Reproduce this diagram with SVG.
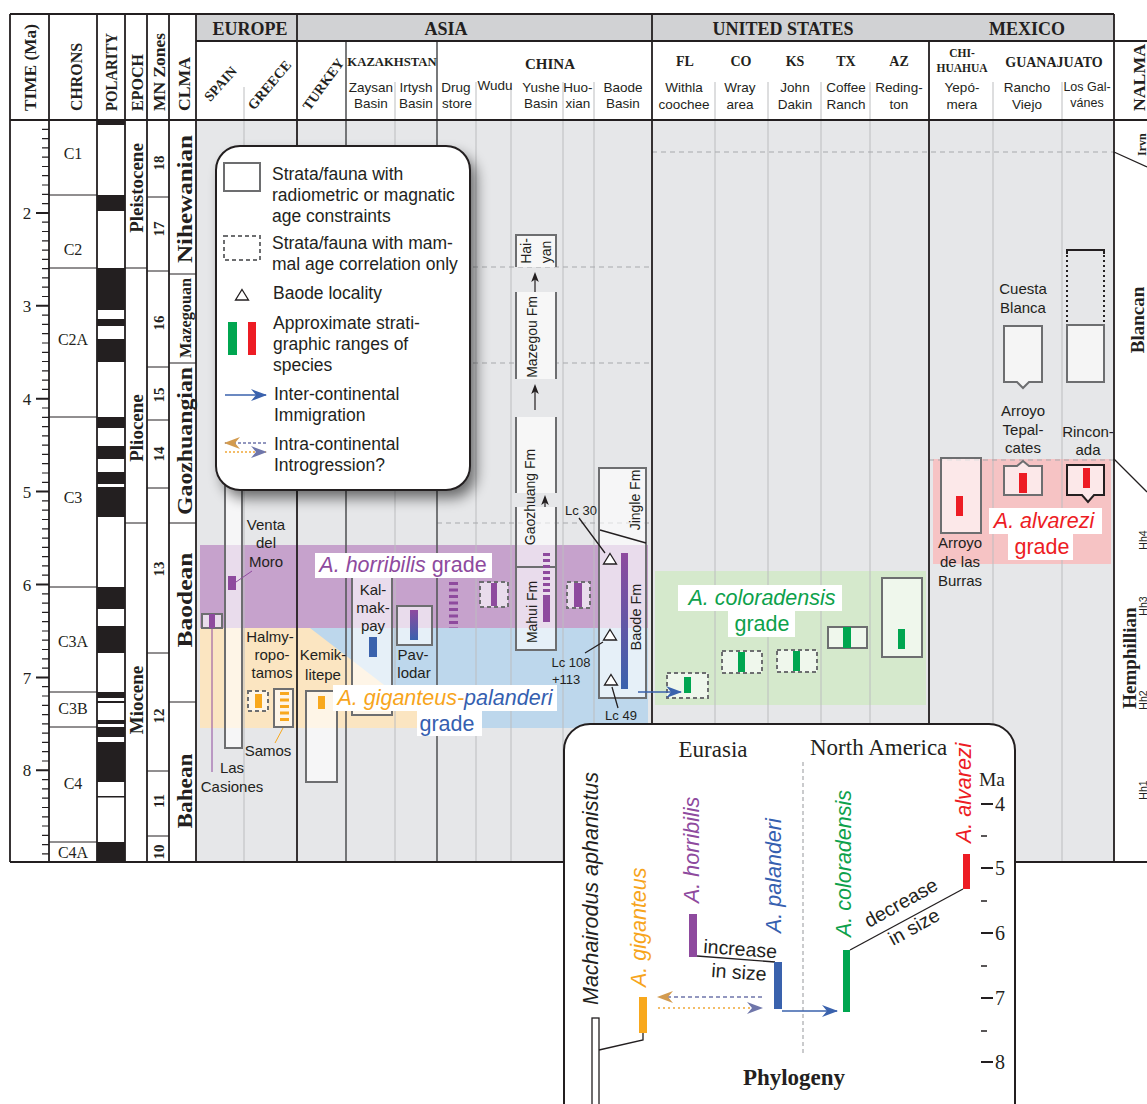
<svg xmlns="http://www.w3.org/2000/svg" width="1147" height="1104" viewBox="0 0 1147 1104">
<defs>
<style>
text{font-family:"Liberation Sans",Arial,sans-serif;fill:#231f20}
.tb{font-family:"Liberation Serif","Times New Roman",serif;font-weight:bold}
.tr{font-family:"Liberation Serif","Times New Roman",serif}
.c{text-anchor:middle}
.hd{font-size:13.5px}
.lb{font-size:15px}
.lg{font-size:17.5px}
.gr{font-size:21.5px}
.sp{font-size:21.5px;font-style:italic}
.tbox{fill:#fff;fill-opacity:.62;stroke:#6d6e70;stroke-width:2}
.dbox{fill:#fff;fill-opacity:.62;stroke:#6d6e70;stroke-width:2;stroke-dasharray:4 3}
.grid{stroke:#bcbdbf;stroke-width:1;fill:none}
.dash{stroke:#a7a9ac;stroke-width:1;stroke-dasharray:5 4;fill:none}
.ln{stroke:#231f20;stroke-width:1.3;fill:none}
.pu{fill:#8e4a9e}.bl{fill:#3a62ad}.or{fill:#f8a81d}.gn{fill:#00a650}.rd{fill:#ed1c24}
.lab{fill:#fff}
.tpu{fill:#8e4a9e}.tbl{fill:#3560b0}.tor{fill:#f7a51c}.tgn{fill:#0da14b}.trd{fill:#ed1c24}
</style>
<linearGradient id="pb" x1="0" y1="0" x2="0" y2="1"><stop offset="0" stop-color="#8e4a9e"/><stop offset="1" stop-color="#3a62ad"/></linearGradient>
<marker id="aBlue" markerUnits="userSpaceOnUse" markerWidth="16" markerHeight="12" viewBox="0 0 16 12" refX="15" refY="6" orient="auto"><path d="M0,0 L16,6 L0,12 L5,6Z" fill="#3a62ad"/></marker>
<marker id="aTan" markerUnits="userSpaceOnUse" markerWidth="16" markerHeight="12" viewBox="0 0 16 12" refX="15" refY="6" orient="auto"><path d="M0,0 L16,6 L0,12 L5,6Z" fill="#d39b4f"/></marker>
<marker id="aSlate" markerUnits="userSpaceOnUse" markerWidth="16" markerHeight="12" viewBox="0 0 16 12" refX="15" refY="6" orient="auto"><path d="M0,0 L16,6 L0,12 L5,6Z" fill="#6f76aa"/></marker>
<path id="ah" d="M0,0 L3.8,10 L0,7.5 L-3.8,10Z" fill="#231f20"/>
<path id="tri" d="M0,-5.5 L6.5,5 L-6.5,5Z" fill="#fff" stroke="#231f20" stroke-width="1.3"/>
<filter id="sh" x="-20%" y="-20%" width="140%" height="140%"><feGaussianBlur stdDeviation="7"/></filter>
</defs>
<rect x="0" y="0" width="1147" height="1104" fill="#fff"/>

<g id="frame">
<rect x="196" y="120" width="918" height="742" fill="#e6e7e9"/>
<rect x="196" y="14" width="918" height="27" fill="#d1d2d4"/>
</g>

<g id="bands">
<rect id="band-horribilis" x="200" y="545" width="448" height="83" fill="#c6a2cc"/>
<rect id="band-palanderi" x="200" y="628" width="448" height="100" fill="#bdd7ec"/>
<polygon id="band-giganteus" points="200,628 310,628 440,728 200,728" fill="#fbe5c1"/>
<rect id="band-coloradensis" x="655" y="571" width="271" height="134" fill="#d5e9cc"/>
<rect id="band-alvarezi" x="933" y="459" width="178" height="105" fill="#f6c3c4"/>
</g>

<g id="gridlines">
<path class="grid" d="M244 87V862M395 82V862M476 82V862M511 82V862M563 82V862M594 82V862M715 82V862M768 82V862M821 82V862M870 82V862M993 82V862M1062 82V862"/>
<path class="dash" d="M437 267H652M437 363H652M437 523H652M652 152H1114M929 460H1114"/>
<path d="M346 41V862M437 41V862" stroke="#58595b" stroke-width="1.6" fill="none"/>
<path d="M10 14H1114M196 41H1147M10 120H1147M10 862H1147M10 14V862M49 14V862M97 14V862M125 14V862M147 14V862M169 14V862M196 14V862M297 14V862M652 14V862M929 41V862M1114 14V862" stroke="#231f20" stroke-width="1.8" fill="none"/>
</g>

<g id="header">
<text class="tb" font-size="17" transform="translate(36,111) rotate(-90)" textLength="87" lengthAdjust="spacingAndGlyphs">TIME (Ma)</text>
<text class="tb" font-size="17" transform="translate(82,111) rotate(-90)" textLength="68" lengthAdjust="spacingAndGlyphs">CHRONS</text>
<text class="tb" font-size="17" transform="translate(117,111) rotate(-90)" textLength="78" lengthAdjust="spacingAndGlyphs">POLARITY</text>
<text class="tb" font-size="17" transform="translate(143,111) rotate(-90)" textLength="57" lengthAdjust="spacingAndGlyphs">EPOCH</text>
<text class="tb" font-size="17" transform="translate(165,111) rotate(-90)" textLength="78" lengthAdjust="spacingAndGlyphs">MN Zones</text>
<text class="tb" font-size="17" transform="translate(190,111) rotate(-90)" textLength="54" lengthAdjust="spacingAndGlyphs">CLMA</text>
<text class="tb" font-size="17" transform="translate(1145,111) rotate(-90)" textLength="67" lengthAdjust="spacingAndGlyphs">NALMA</text>
<text class="tb c" font-size="18" x="250" y="35" fill="#333">EUROPE</text>
<text class="tb c" font-size="18" x="446" y="35" fill="#333">ASIA</text>
<text class="tb c" font-size="18" x="783" y="35" fill="#333">UNITED STATES</text>
<text class="tb c" font-size="18" x="1027" y="35" fill="#333">MEXICO</text>
<text class="tb c" font-size="14" transform="translate(224,87) rotate(-48)">SPAIN</text>
<text class="tb c" font-size="14" transform="translate(273,88) rotate(-50)">GREECE</text>
<text class="tb c" font-size="14" transform="translate(327,87) rotate(-54)">TURKEY</text>
<text class="tb c" font-size="12.7" x="392" y="66">KAZAKHSTAN</text>
<text class="tb c" font-size="15" x="550" y="69">CHINA</text>
<text class="hd c" x="371" y="92">Zaysan</text><text class="hd c" x="371" y="108">Basin</text>
<text class="hd c" x="416" y="92">Irtysh</text><text class="hd c" x="416" y="108">Basin</text>
<text class="hd c" x="456" y="92">Drug</text><text class="hd c" x="457" y="108">store</text>
<text class="hd c" x="495" y="90">Wudu</text>
<text class="hd c" x="541" y="92">Yushe</text><text class="hd c" x="541" y="108">Basin</text>
<text class="hd c" x="578" y="92">Huo-</text><text class="hd c" x="578" y="108">xian</text>
<text class="hd c" x="623" y="92">Baode</text><text class="hd c" x="623" y="108">Basin</text>
<text class="tb c" font-size="14" x="685" y="66">FL</text>
<text class="tb c" font-size="14" x="741" y="66">CO</text>
<text class="tb c" font-size="14" x="795" y="66">KS</text>
<text class="tb c" font-size="14" x="846" y="66">TX</text>
<text class="tb c" font-size="14" x="899" y="66">AZ</text>
<text class="hd c" x="684" y="92">Withla</text><text class="hd c" x="684" y="109">coochee</text>
<text class="hd c" x="740" y="92">Wray</text><text class="hd c" x="740" y="109">area</text>
<text class="hd c" x="795" y="92">John</text><text class="hd c" x="795" y="109">Dakin</text>
<text class="hd c" x="846" y="92">Coffee</text><text class="hd c" x="846" y="109">Ranch</text>
<text class="hd c" x="899" y="92">Reding-</text><text class="hd c" x="899" y="109">ton</text>
<text class="tb c" font-size="11.5" x="962" y="57">CHI-</text><text class="tb c" font-size="11.5" x="962" y="72">HUAHUA</text>
<text class="tb c" font-size="14" x="1054" y="67">GUANAJUATO</text>
<text class="hd c" x="962" y="92">Yepó-</text><text class="hd c" x="962" y="109">mera</text>
<text class="hd c" x="1027" y="92">Rancho</text><text class="hd c" x="1027" y="109">Viejo</text>
<text class="c" font-size="12.5" x="1087" y="91">Los Gal-</text><text class="c" font-size="12.5" x="1087" y="107">vánes</text>
</g>

<g id="time-scale">
<path stroke="#231f20" stroke-width="1.2" fill="none" d="M42 129.3h7M42 138.6h7M42 147.9h7M42 157.2h7M42 166.5h7M42 175.7h7M42 185h7M42 194.3h7M42 203.6h7
M42 222.2h7M42 231.5h7M42 240.8h7M42 250.1h7M42 259.4h7M42 268.6h7M42 277.9h7M42 287.2h7M42 296.5h7
M42 315.1h7M42 324.4h7M42 333.7h7M42 343h7M42 352.3h7M42 361.5h7M42 370.8h7M42 380.1h7M42 389.4h7
M42 408h7M42 417.3h7M42 426.6h7M42 435.9h7M42 445.2h7M42 454.4h7M42 463.7h7M42 473h7M42 482.3h7
M42 500.9h7M42 510.2h7M42 519.5h7M42 528.8h7M42 538.1h7M42 547.3h7M42 556.6h7M42 565.9h7M42 575.2h7
M42 593.8h7M42 603.1h7M42 612.4h7M42 621.7h7M42 631h7M42 640.2h7M42 649.5h7M42 658.8h7M42 668.1h7
M42 686.7h7M42 696h7M42 705.3h7M42 714.6h7M42 723.9h7M42 733.1h7M42 742.4h7M42 751.7h7M42 761h7
M42 779.6h7M42 788.9h7M42 798.2h7M42 807.5h7M42 816.8h7M42 826h7M42 835.3h7M42 844.6h7M42 853.9h7"/>
<path stroke="#231f20" stroke-width="2" fill="none" d="M36 212.9h13M36 305.8h13M36 398.7h13M36 491.6h13M36 584.5h13M36 677.4h13M36 770.3h13"/>
<g class="tr" font-size="17" text-anchor="middle">
<text class="tr" x="27" y="219">2</text><text class="tr" x="27" y="312">3</text><text class="tr" x="27" y="405">4</text><text class="tr" x="27" y="498">5</text><text class="tr" x="27" y="591">6</text><text class="tr" x="27" y="684">7</text><text class="tr" x="27" y="776">8</text>
</g>
</g>

<g id="chrons">
<path stroke="#231f20" stroke-width="1" fill="none" d="M49 195H97M49 268H97M49 417H97M49 587H97M49 692H97M49 727H97M49 842H97"/>
<g font-size="16">
<text class="tr c" x="73" y="159">C1</text><text class="tr c" x="73" y="255">C2</text><text class="tr c" x="73" y="345">C2A</text><text class="tr c" x="73" y="503">C3</text><text class="tr c" x="73" y="647">C3A</text><text class="tr c" x="73" y="714">C3B</text><text class="tr c" x="73" y="789">C4</text><text class="tr c" x="73" y="858">C4A</text>
</g>
</g>

<g id="polarity" fill="#231f20">
<rect x="97" y="120" width="28" height="5"/><rect x="97" y="195" width="28" height="16"/><rect x="97" y="268" width="28" height="42"/><rect x="97" y="319" width="28" height="7"/><rect x="97" y="339" width="28" height="23"/><rect x="97" y="417" width="28" height="11"/><rect x="97" y="446" width="28" height="13"/><rect x="97" y="472" width="28" height="12"/><rect x="97" y="487" width="28" height="30"/><rect x="97" y="587" width="28" height="22"/><rect x="97" y="626" width="28" height="27"/><rect x="97" y="692" width="28" height="6"/><rect x="97" y="701" width="28" height="2"/><rect x="97" y="720" width="28" height="4"/><rect x="97" y="727" width="28" height="10"/><rect x="97" y="742" width="28" height="40"/><rect x="97" y="796" width="28" height="1.5"/><rect x="97" y="842" width="28" height="20"/>
</g>

<g id="epochs">
<path stroke="#231f20" stroke-width="1" fill="none" d="M125 268H147M125 523H147"/>
<text class="tb c" font-size="19" transform="translate(143,188) rotate(-90)">Pleistocene</text>
<text class="tb c" font-size="19" transform="translate(143,428) rotate(-90)">Pliocene</text>
<text class="tb c" font-size="19" transform="translate(143,700) rotate(-90)">Miocene</text>
</g>

<g id="mn-zones">
<path stroke="#231f20" stroke-width="1" fill="none" d="M147 197H169M147 271H169M147 367H169M147 420H169M147 488H169M147 653H169M147 771H169M147 836H169"/>
<text class="tb c" font-size="15" transform="translate(164,163) rotate(-90)">18</text>
<text class="tb c" font-size="15" transform="translate(164,229) rotate(-90)">17</text>
<text class="tb c" font-size="15" transform="translate(164,323) rotate(-90)">16</text>
<text class="tb c" font-size="15" transform="translate(164,395) rotate(-90)">15</text>
<text class="tb c" font-size="15" transform="translate(164,454) rotate(-90)">14</text>
<text class="tb c" font-size="15" transform="translate(164,569) rotate(-90)">13</text>
<text class="tb c" font-size="15" transform="translate(164,716) rotate(-90)">12</text>
<text class="tb c" font-size="15" transform="translate(164,801) rotate(-90)">11</text>
<text class="tb c" font-size="15" transform="translate(164,852) rotate(-90)">10</text>
</g>

<g id="clma">
<path stroke="#231f20" stroke-width="1" fill="none" d="M169 274H196M169 363H196M169 523H196M169 702H196"/>
<text class="tb c" font-size="22" transform="translate(192,199) rotate(-90)" textLength="128" lengthAdjust="spacingAndGlyphs">Nihewanian</text>
<text class="tb c" font-size="17" transform="translate(191,318) rotate(-90)" textLength="80" lengthAdjust="spacingAndGlyphs">Mazegouan</text>
<text class="tb c" font-size="22" transform="translate(192,441) rotate(-90)" textLength="148" lengthAdjust="spacingAndGlyphs">Gaozhuangian</text>
<text class="tb c" font-size="22" transform="translate(192,600) rotate(-90)" textLength="95" lengthAdjust="spacingAndGlyphs">Baodean</text>
<text class="tb c" font-size="22" transform="translate(192,791) rotate(-90)" textLength="75" lengthAdjust="spacingAndGlyphs">Bahean</text>
</g>

<g id="nalma">
<path class="ln" d="M1114 152L1147 167M1114 459L1147 492"/>
<text class="tb" font-size="12" transform="translate(1145.5,156) rotate(-90)">Irvn</text>
<text class="tb c" font-size="19" transform="translate(1144,320) rotate(-90)">Blancan</text>
<text class="tb c" font-size="19" transform="translate(1136,658) rotate(-90)">Hemphillian</text>
<text class="c" font-size="10.5" transform="translate(1146.5,540) rotate(-90)">Hh4</text>
<text class="c" font-size="10.5" transform="translate(1146.5,606) rotate(-90)">Hh3</text>
<text class="c" font-size="10.5" transform="translate(1146.5,700) rotate(-90)">Hh2</text>
<text class="c" font-size="10.5" transform="translate(1146.5,790) rotate(-90)">Hh1</text>
</g>

<g id="europe">
<g id="spain-venta">
<rect class="tbox" x="225" y="470" width="17" height="278"/>
<rect class="pu" x="228" y="576" width="8" height="14"/>
<path d="M236 582L252 571" stroke="#8e4a9e" stroke-width="1"/>
<text class="lb c" x="266" y="530">Venta</text><text class="lb c" x="266" y="548">del</text><text class="lb c" x="266" y="567">Moro</text>
</g>
<g id="spain-lascasiones">
<rect class="tbox" x="202" y="614" width="20" height="14"/>
<rect class="pu" x="209" y="614" width="6" height="14"/>
<path d="M212 628V772" stroke="#8e4a9e" stroke-width="1"/>
<text class="lb c" x="232" y="773">Las</text><text class="lb c" x="232" y="792">Casiones</text>
</g>
<g id="greece-halmyropotamos">
<rect class="dbox" x="248" y="691" width="20" height="20"/>
<rect class="or" x="255" y="694" width="7" height="14"/>
<text class="lb c" x="270" y="642">Halmy-</text><text class="lb c" x="272" y="660">ropo-</text><text class="lb c" x="272" y="678">tamos</text>
</g>
<g id="greece-samos">
<rect class="tbox" x="274" y="689" width="19" height="38"/>
<path d="M284.5 692V724" stroke="#f8a81d" stroke-width="9" stroke-dasharray="3 3.5"/>
<path d="M283 728L275 743" stroke="#f8a81d" stroke-width="1"/>
<text class="lb c" x="268" y="756">Samos</text>
</g>
</g>

<g id="asia">
<g id="turkey-kemiklitepe">
<rect class="tbox" x="306" y="691" width="31" height="91"/>
<rect class="or" x="318" y="696" width="7" height="13"/>
<text class="lb c" x="323" y="660">Kemik-</text><text class="lb c" x="323" y="680">litepe</text>
</g>
<g id="kalmakpay">
<rect class="tbox" x="352" y="570" width="40" height="145"/>
<rect class="bl" x="369" y="637" width="8" height="20"/>
<text class="lb c" x="373" y="595">Kal-</text><text class="lb c" x="373" y="613">mak-</text><text class="lb c" x="373" y="631">pay</text>
</g>
<g id="pavlodar">
<rect class="tbox" x="397" y="606" width="35" height="39"/>
<rect x="410" y="610" width="8" height="30" fill="url(#pb)"/>
<text class="lb c" x="413" y="660">Pav-</text><text class="lb c" x="414" y="678">lodar</text>
</g>
<g id="drugstore">
<path d="M453.5 582V628" stroke="#8e4a9e" stroke-width="9" stroke-dasharray="3 3.5"/>
</g>
<g id="wudu">
<rect class="dbox" x="480" y="582" width="28" height="25"/>
<rect class="pu" x="491" y="583" width="6" height="23"/>
</g>
<g id="yushe">
<rect x="516" y="235" width="40" height="32" fill="#f7f7f7"/>
<rect x="516" y="292" width="40" height="87" fill="#f7f7f7"/>
<rect x="516" y="417" width="40" height="76" fill="#f7f7f7"/>
<rect x="516" y="507" width="40" height="143" fill="#fff" fill-opacity=".62"/>
<path d="M516 267V235H556V267M516 292V379M556 292V379M516 417V493M556 417V493M516 507V650H556V507M516 567H556" stroke="#6d6e70" stroke-width="2" fill="none"/>
<path d="M535 292V279M535 410V391M545 507V502" stroke="#231f20" stroke-width="1.2"/>
<use href="#ah" x="535" y="272"/>
<use href="#ah" x="535" y="384"/>
<use href="#ah" x="545" y="495"/>
<text font-size="14" transform="translate(531,251) rotate(-90)" class="c">Hai-</text>
<text font-size="14" transform="translate(551,252) rotate(-90)" class="c">yan</text>
<text font-size="14" transform="translate(537,337) rotate(-90)" class="c">Mazegou Fm</text>
<text font-size="14" transform="translate(535,497) rotate(-90)" class="c">Gaozhuang Fm</text>
<text font-size="14" transform="translate(537,612) rotate(-90)" class="c">Mahui Fm</text>
<path d="M546.5 553V597" stroke="#8e4a9e" stroke-width="7" stroke-dasharray="3 3"/>
<rect class="pu" x="543" y="597" width="7" height="25"/>
</g>
<g id="huoxian">
<rect class="dbox" x="567" y="582" width="23" height="26"/>
<rect class="pu" x="574" y="583" width="8" height="24"/>
</g>
<g id="baode">
<rect class="tbox" x="599" y="468" width="47" height="230"/>
<path d="M600 530L646 543" stroke="#231f20" stroke-width="1.3"/>
<rect x="621" y="553" width="7" height="136" fill="url(#pb)"/>
<use href="#tri" x="610" y="559"/>
<use href="#tri" x="610" y="635"/>
<use href="#tri" x="611" y="680"/>
<text font-size="14" transform="translate(640,500) rotate(-90)" class="c">Jingle Fm</text>
<text font-size="14.5" transform="translate(641,617) rotate(-90)" class="c">Baode Fm</text>
<text font-size="13" class="c" x="581" y="515">Lc 30</text>
<text font-size="13" class="c" x="571" y="667">Lc 108</text>
<text font-size="13" x="552" y="684">+113</text>
<text font-size="13" class="c" x="621" y="720">Lc 49</text>
<path class="ln" stroke-width="1" d="M579 518L605 553M585 653L603 642M612 687L618 708"/>
</g>
</g>

<g id="united-states">
<rect class="dbox" x="667" y="673" width="41" height="25"/><rect class="gn" x="684" y="677" width="7" height="16"/>
<rect class="dbox" x="722" y="651" width="40" height="22"/><rect class="gn" x="738" y="652" width="7" height="20"/>
<rect class="dbox" x="777" y="650" width="40" height="22"/><rect class="gn" x="793" y="651" width="7" height="20"/>
<rect class="tbox" x="828" y="627" width="39" height="21"/><rect class="gn" x="843" y="627" width="8" height="21"/>
<rect class="tbox" x="882" y="578" width="40" height="79"/><rect class="gn" x="898" y="629" width="7" height="20"/>
</g>

<g id="mexico">
<g id="arroyo-burras">
<rect class="tbox" x="941" y="458" width="40" height="75"/>
<rect class="rd" x="956" y="496" width="7" height="20"/>
<text class="lb c" x="960" y="548">Arroyo</text><text class="lb c" x="960" y="567">de las</text><text class="lb c" x="960" y="586">Burras</text>
</g>
<g id="cuesta-blanca">
<path d="M1004 326H1042V382H1029L1023 388L1017 382H1004Z" fill="#f5f5f5" stroke="#6d6e70" stroke-width="2"/>
<text class="lb c" x="1023" y="294">Cuesta</text><text class="lb c" x="1023" y="313">Blanca</text>
</g>
<g id="tepalcates">
<path d="M1004 466H1017L1023 461L1029 466H1042V495H1004Z" fill="#fff" fill-opacity=".62" stroke="#6d6e70" stroke-width="2"/>
<rect class="rd" x="1019" y="473" width="8" height="20"/>
<text class="lb c" x="1023" y="416">Arroyo</text><text class="lb c" x="1023" y="435">Tepal-</text><text class="lb c" x="1023" y="453">cates</text>
</g>
<g id="rinconada">
<path d="M1067 465H1104V495H1094L1088 502L1082 495H1067Z" fill="#fff" fill-opacity=".62" stroke="#231f20" stroke-width="2"/>
<rect class="rd" x="1083" y="468" width="7" height="20"/>
<text class="lb c" x="1088" y="437">Rincon-</text><text class="lb c" x="1088" y="455">ada</text>
</g>
<g id="los-galvanes-upper">
<rect x="1067" y="325" width="37" height="57" fill="#f5f5f5" stroke="#6d6e70" stroke-width="2"/>
<path d="M1067 254V250H1104V254" stroke="#231f20" stroke-width="2" fill="none"/>
<path d="M1067 255V325M1104 255V325" stroke="#231f20" stroke-width="2" stroke-dasharray="2 3" fill="none"/>
</g>
</g>

<g id="connectors">
<path d="M638 692H681" stroke="#3a62ad" stroke-width="1.5" marker-end="url(#aBlue)"/>
</g>

<g id="grade-labels">
<rect class="lab" x="315" y="553" width="177" height="25"/>
<text class="gr c tpu" x="403" y="572"><tspan font-style="italic">A. horribilis</tspan> grade</text>
<rect class="lab" x="333" y="685" width="224" height="26"/>
<text class="sp c" x="445" y="705"><tspan class="tor">A. giganteus-</tspan><tspan class="tbl">palanderi</tspan></text>
<rect class="lab" x="417" y="711" width="65" height="25"/>
<text class="gr c tbl" x="447" y="731">grade</text>
<rect class="lab" x="678" y="585" width="164" height="26"/>
<text class="sp c tgn" x="762" y="605">A. coloradensis</text>
<rect class="lab" x="728" y="611" width="67" height="26"/>
<text class="gr c tgn" x="762" y="631">grade</text>
<rect class="lab" x="989" y="508" width="113" height="26"/>
<text class="sp c trd" x="1044" y="528">A. alvarezi</text>
<rect class="lab" x="1008" y="534" width="65" height="26"/>
<text class="gr c trd" x="1042" y="554">grade</text>
</g>

<g id="legend">
<rect x="222" y="154" width="254" height="344" rx="24" fill="#000" opacity=".55" filter="url(#sh)"/>
<rect x="216" y="146" width="254" height="344" rx="24" fill="#fff" stroke="#231f20" stroke-width="2"/>
<rect x="224" y="163" width="36" height="28" fill="#fff" stroke="#6d6e70" stroke-width="2"/>
<rect x="224" y="236" width="36" height="24" fill="#fff" stroke="#6d6e70" stroke-width="2" stroke-dasharray="4 3"/>
<use href="#tri" x="242" y="295"/>
<rect class="gn" x="228" y="322" width="9" height="33"/>
<rect class="rd" x="248" y="322" width="8" height="33"/>
<path d="M225 395H266" stroke="#3a62ad" stroke-width="1.5" marker-end="url(#aBlue)"/>
<path d="M266 443H225" stroke="#6f76aa" stroke-width="1.5" stroke-dasharray="3 2" marker-end="url(#aTan)"/>
<path d="M225 452H266" stroke="#f0a838" stroke-width="1.5" stroke-dasharray="2 2" marker-end="url(#aSlate)"/>
<text class="lg" x="272" y="180">Strata/fauna with</text>
<text class="lg" x="272" y="201">radiometric or magnatic</text>
<text class="lg" x="272" y="222">age constraints</text>
<text class="lg" x="272" y="249">Strata/fauna with mam-</text>
<text class="lg" x="272" y="270">mal age correlation only</text>
<text class="lg" x="273" y="299">Baode locality</text>
<text class="lg" x="273" y="329">Approximate strati-</text>
<text class="lg" x="273" y="350">graphic ranges of</text>
<text class="lg" x="273" y="371">species</text>
<text class="lg" x="274" y="400">Inter-continental</text>
<text class="lg" x="274" y="421">Immigration</text>
<text class="lg" x="274" y="450">Intra-continental</text>
<text class="lg" x="274" y="471">Introgression?</text>
</g>

<g id="phylogeny">
<rect x="564" y="724" width="451" height="420" rx="26" fill="#fff" stroke="#231f20" stroke-width="2"/>
<text class="tr c" font-size="23" x="713" y="757">Eurasia</text>
<text class="tr" font-size="23" x="810" y="755">North America</text>
<path d="M803 762V1055" stroke="#a7a9ac" stroke-width="1.2" stroke-dasharray="4 3"/>
<text class="tr" font-size="19.5" x="979" y="786">Ma</text>
<path d="M981 804h12M981 868h12M981 933h12M981 998h12M981 1062h12" stroke="#231f20" stroke-width="2"/>
<path d="M981 836h6M981 901h6M981 966h6M981 1031h6" stroke="#231f20" stroke-width="1.5"/>
<text class="tr" font-size="20" x="995" y="811">4</text><text class="tr" font-size="20" x="995" y="875">5</text><text class="tr" font-size="20" x="995" y="940">6</text><text class="tr" font-size="20" x="995" y="1005">7</text><text class="tr" font-size="20" x="995" y="1069">8</text>
<rect x="592" y="1018" width="7" height="100" fill="#fff" stroke="#231f20" stroke-width="1.3"/>
<path class="ln" d="M599 1050L643 1040V1033"/>
<rect class="or" x="639" y="997" width="8" height="36"/>
<rect class="pu" x="689" y="914" width="8" height="43"/>
<path class="ln" d="M697 956L775 962"/>
<rect class="bl" x="774" y="962" width="8" height="47"/>
<path d="M782 1011H837" stroke="#3a62ad" stroke-width="1.5" marker-end="url(#aBlue)"/>
<rect class="gn" x="843" y="950" width="7" height="62"/>
<path class="ln" d="M850 950L963 889"/>
<rect class="rd" x="963" y="854" width="7" height="35"/>
<path d="M762 997H658" stroke="#6f76aa" stroke-width="1.5" stroke-dasharray="4 3" marker-end="url(#aTan)"/>
<path d="M658 1008H762" stroke="#f0a838" stroke-width="1.5" stroke-dasharray="2 3" marker-end="url(#aSlate)"/>
<text class="sp" transform="translate(598,1005) rotate(-90)">Machairodus aphanistus</text>
<text class="sp tor" transform="translate(646,987) rotate(-90)">A. giganteus</text>
<text class="sp tpu" transform="translate(699,903) rotate(-90)">A. horribilis</text>
<text class="sp tbl" transform="translate(781,933) rotate(-90)">A. palanderi</text>
<text class="sp tgn" transform="translate(851,937) rotate(-90)">A. coloradensis</text>
<text class="sp trd" transform="translate(971,843) rotate(-90)">A. alvarezi</text>
<text font-size="19.5" transform="translate(703,953) rotate(4)">increase</text>
<text font-size="19.5" transform="translate(711,977) rotate(4)">in size</text>
<text font-size="19.5" transform="translate(869,928) rotate(-29)">decrease</text>
<text font-size="19.5" transform="translate(893,946) rotate(-29)">in size</text>
<text class="tb c" font-size="23" x="794" y="1085">Phylogeny</text>
</g>
</svg>
